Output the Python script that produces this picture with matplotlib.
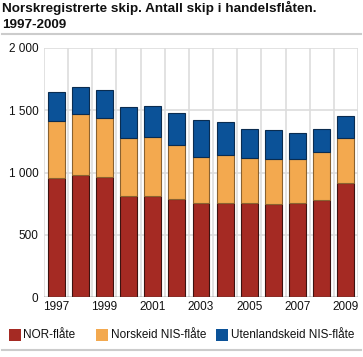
import matplotlib
matplotlib.use("Agg")
import matplotlib.pyplot as plt
from matplotlib.patches import Rectangle
from matplotlib.lines import Line2D
import numpy as np

plt.rcParams['font.family'] = ['Liberation Sans', 'DejaVu Sans']

years = [1997, 1998, 1999, 2000, 2001, 2002, 2003, 2004, 2005, 2006, 2007, 2008, 2009]
nor = [957, 976, 965, 815, 812, 785, 753, 753, 758, 745, 753, 777, 914]
norskeid_nis = [460, 492, 471, 462, 470, 438, 374, 384, 355, 360, 355, 384, 366]
utenlandskeid_nis = [231, 221, 229, 250, 253, 253, 295, 269, 237, 237, 212, 191, 172]
series_names = ["NOR-flåte", "Norskeid NIS-flåte", "Utenlandskeid NIS-flåte"]
title_lines = ["Norskregistrerte skip. Antall skip i handelsflåten.", "1997-2009"]

colors = ["#a52a23", "#f3a94f", "#0b5298"]
edges = ["#3d1210", "#8a6230", "#0a2c50"]

W, H = 363, 357
fig = plt.figure(figsize=(W / 100, H / 100), dpi=100)
ax = fig.add_axes([44 / W, 1 - 297 / H, 314 / W, 249 / H])

x = np.arange(len(years))
bottom = np.zeros(len(years))
for vals, c, e in zip([nor, norskeid_nis, utenlandskeid_nis], colors, edges):
    ax.bar(x, vals, bottom=bottom, width=0.7, color=c, edgecolor=e, linewidth=0.8, zorder=3)
    bottom += np.array(vals)

ax.set_xlim(-0.5, len(years) - 0.5)
ax.set_ylim(0, 2000)
ax.set_yticks([0, 500, 1000, 1500, 2000])
ax.set_yticklabels(["0", "500", "1 000", "1 500", "2 000"])
ax.set_xticks(x[::2])
ax.set_xticklabels([str(y) for y in years[::2]])
ax.tick_params(length=0, labelsize=8.5, colors="#111111", pad=3)
ax.tick_params(axis='y', pad=4)

for yv in [500, 1000, 1500, 2000]:
    ax.axhline(yv, color="#dddddd", linewidth=1.2, zorder=1)
for xv in np.arange(-0.5, len(years), 1.0):
    ax.axvline(xv, color="#dddddd", linewidth=1.2, zorder=1)
for s in ax.spines.values():
    s.set_visible(False)
ax.axhline(0, color="#444444", linewidth=1, zorder=4)

fig.text(2 / W, 1 - 12 / H, title_lines[0], ha="left", va="baseline", fontsize=9.7,
         fontweight="bold", color="#111111")
fig.text(2 / W, 1 - 28 / H, title_lines[1], ha="left", va="baseline", fontsize=9.7,
         fontweight="bold", color="#111111")
fig.add_artist(Line2D([2 / W, 361 / W], [1 - 34 / H] * 2, color="#cccccc", linewidth=1.5))
fig.add_artist(Line2D([2 / W, 361 / W], [1 - 350 / H] * 2, color="#cccccc", linewidth=1.5))

sq_x = [9, 96, 216]
txt_x = [23, 111, 231]
cy = 335
for sx, tx, c, name in zip(sq_x, txt_x, colors, series_names):
    fig.add_artist(Rectangle((sx / W, 1 - (cy + 6) / H), 12 / W, 12 / H, facecolor=c,
                             edgecolor="none", transform=fig.transFigure))
    fig.text(tx / W, 1 - cy / H, name, ha="left", va="center", fontsize=8.5, color="#111111")

fig.savefig("out.png", dpi=100)
